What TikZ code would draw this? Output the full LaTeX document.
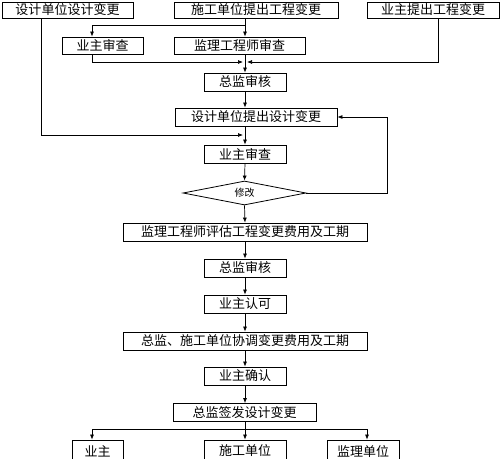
\documentclass[tikz,border=0pt]{standalone}
\usepackage{fontspec}
\newfontfamily\cjk{Noto Sans CJK SC}
\usetikzlibrary{shapes.geometric,arrows.meta,positioning}
\tikzset
{
    procbox/.style = {rectangle, draw=black, line width=0.8pt, align=center, inner sep=0pt, minimum height=18pt, font=\cjk\fontsize{13}{13}\selectfont},
    judgebox/.style = {diamond, draw=black, line width=0.8pt, align=center, inner sep=0pt, aspect=5, minimum width=123pt, minimum height=24pt, font=\cjk\fontsize{10}{10}\selectfont},
    flowline/.style = {draw=black, line width=0.7pt, -{Latex[length=5pt,width=4pt]}}
}
\begin{document}
\begin{tikzpicture}[x=1pt,y=-1pt]
	\useasboundingbox (0,0) rectangle (500,458);
	% lines the connectors run along
	\coordinate (midline) at (245,0);
	\coordinate (leftline) at (92,0);
	\coordinate (farleft) at (41,0);
	\coordinate (rightline) at (438,0);
	\coordinate (outline) at (367,0);
	\coordinate (mergeL) at (243,62);
	\coordinate (mergeR) at (247,62);
	\coordinate (mergeD) at (243,135);
	% top row
	\node[procbox, minimum width=131pt, minimum height=16pt] (sjbg) at (67.5,10) {设计单位设计变更};
	\node[procbox, minimum width=164pt, minimum height=16pt] (sgbg) at (256,10) {施工单位提出工程变更};
	\node[procbox, minimum width=132pt, minimum height=16pt] (yzbg) at (433,10) {业主提出工程变更};
	% second row
	\node[procbox, minimum width=81pt, minimum height=17pt] (yzsc) at (102.5,45.5) {业主审查};
	\node[procbox, minimum width=131pt, minimum height=17pt] (jlsc) at (239.5,45.5) {监理工程师审查};
	% main column
	\node[procbox, minimum width=82pt] (zjsh) at (245,82) {总监审核};
	\node[procbox, minimum width=162pt] (sjtc) at (256,117) {设计单位提出设计变更};
	\node[procbox, minimum width=82pt] (yzsc2) at (245,154) {业主审查};
	\node[judgebox] (xg) at (244.5,193) {修改};
	\node[procbox, minimum width=244pt] (pg) at (245,232) {监理工程师评估工程变更费用及工期};
	\node[procbox, minimum width=82pt] (zjsh2) at (245,268) {总监审核};
	\node[procbox, minimum width=82pt] (yzrk) at (245,304) {业主认可};
	\node[procbox, minimum width=244pt] (xt) at (245,341) {总监、施工单位协调变更费用及工期};
	\node[procbox, minimum width=82pt] (yzqr) at (245,376) {业主确认};
	\node[procbox, minimum width=143pt] (qf) at (244.5,412.5) {总监签发设计变更};
	% bottom row
	\node[procbox, minimum width=51pt, minimum height=22pt] (yz) at (97.5,451) {业主};
	\node[procbox, minimum width=82pt, minimum height=22pt] (sgdw) at (245,451) {施工单位};
	\node[procbox, minimum width=72pt, minimum height=22pt] (jldw) at (363,451) {监理单位};
	% connectors
	\draw[flowline] (sgbg.south -| midline) -- (jlsc.north -| midline);
	\draw[flowline] (sgbg.south -| midline) ++(0,7) -| (yzsc.north -| leftline);
	\draw[flowline] (yzsc.south -| leftline) |- (mergeL);
	\draw[flowline] (yzbg.south -| rightline) |- (mergeR);
	\draw[flowline] (jlsc.south -| midline) -- (zjsh.north);
	\draw[flowline] (zjsh.south) -- (sjtc.north -| midline);
	\draw[flowline] (sjtc.south -| midline) -- (yzsc2.north);
	\draw[flowline] (sjbg.south -| farleft) |- (mergeD);
	\draw[flowline] (yzsc2.south) -- (xg.north);
	\draw[flowline] (xg.east) -- ++(81,0) |- (sjtc.east);
	\draw[flowline] (xg.south) -- (pg.north);
	\draw[flowline] (pg.south) -- (zjsh2.north);
	\draw[flowline] (zjsh2.south) -- (yzrk.north);
	\draw[flowline] (yzrk.south) -- (xt.north);
	\draw[flowline] (xt.south) -- (yzqr.north);
	\draw[flowline] (yzqr.south) -- (qf.north -| midline);
	\draw[flowline] (qf.south -| midline) -- (sgdw.north);
	\draw[flowline] (qf.south -| midline) ++(0,7) -| (yz.north -| leftline);
	\draw[flowline] (qf.south -| midline) ++(0,7) -| (jldw.north -| outline);
\end{tikzpicture}
\end{document}
